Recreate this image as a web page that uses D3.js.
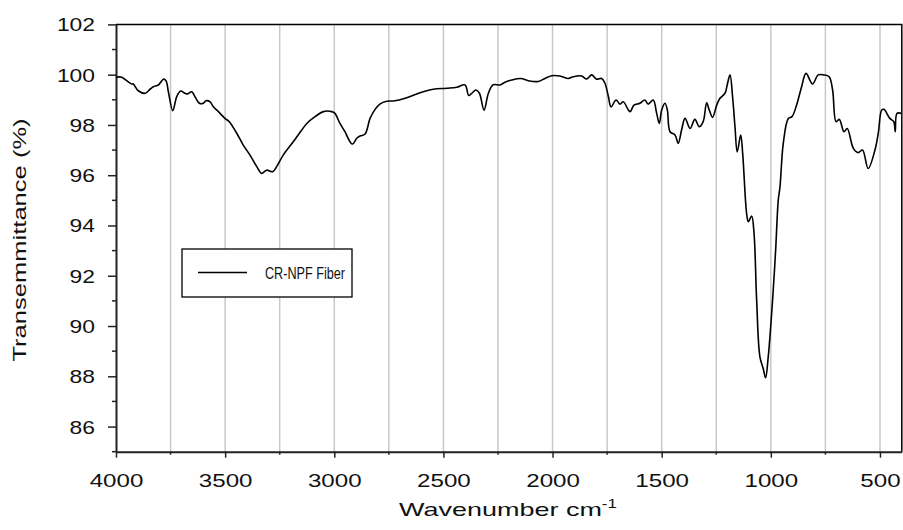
<!DOCTYPE html>
<html>
<head>
<meta charset="utf-8">
<script src="https://cdn.jsdelivr.net/npm/d3@7"></script>
<style>
  html, body { margin: 0; padding: 0; background: #fff; }
  svg { display: block; font-family: "Liberation Sans", Arial, sans-serif; }
</style>
</head>
<body>
<svg id="chart" width="903" height="530"></svg>
<script>
// ---- Data ----
const wavenumbers = [4000, 3974, 3951, 3928, 3921, 3898, 3867, 3844, 3829, 3806, 3783, 3771, 3760, 3740, 3722, 3704, 3684, 3673, 3653, 3638, 3618, 3600, 3588, 3569, 3554, 3531, 3501, 3481, 3447, 3417, 3386, 3355, 3333, 3310, 3282, 3264, 3234, 3188, 3149, 3126, 3088, 3050, 3012, 2997, 2974, 2951, 2928, 2916, 2897, 2882, 2859, 2836, 2813, 2791, 2760, 2722, 2668, 2607, 2546, 2485, 2439, 2401, 2384, 2370, 2351, 2335, 2314, 2294, 2272, 2241, 2218, 2187, 2146, 2111, 2065, 2035, 2004, 1966, 1928, 1905, 1867, 1844, 1821, 1798, 1775, 1760, 1744, 1732, 1709, 1691, 1676, 1645, 1627, 1600, 1577, 1562, 1539, 1523, 1511, 1500, 1485, 1474, 1462, 1439, 1424, 1409, 1393, 1370, 1348, 1328, 1310, 1294, 1282, 1267, 1248, 1233, 1210, 1200, 1187, 1175, 1164, 1154, 1138, 1129, 1111, 1103, 1088, 1077, 1065, 1050, 1035, 1024, 1012, 992, 978, 966, 958, 943, 920, 903, 882, 859, 839, 809, 783, 757, 733, 717, 701, 686, 665, 650, 622, 600, 580, 554, 523, 508, 492, 482, 455, 437, 430, 422, 402];
const transmittance = [99.9, 99.9, 99.76, 99.63, 99.63, 99.36, 99.26, 99.42, 99.52, 99.59, 99.82, 99.76, 99.32, 98.57, 99.12, 99.35, 99.26, 99.23, 99.32, 99.12, 98.86, 98.86, 98.96, 98.92, 98.72, 98.53, 98.26, 98.13, 97.67, 97.2, 96.8, 96.34, 96.07, 96.2, 96.14, 96.34, 96.8, 97.33, 97.8, 98.06, 98.33, 98.53, 98.53, 98.46, 98.06, 97.73, 97.33, 97.24, 97.47, 97.56, 97.64, 98.26, 98.62, 98.83, 98.94, 98.96, 99.08, 99.28, 99.42, 99.46, 99.5, 99.59, 99.17, 99.26, 99.39, 99.26, 98.59, 99.26, 99.6, 99.59, 99.7, 99.79, 99.85, 99.76, 99.73, 99.85, 99.96, 99.95, 99.85, 99.92, 99.95, 99.83, 99.99, 99.82, 99.85, 99.66, 99.12, 98.72, 98.99, 98.83, 98.92, 98.53, 98.79, 98.86, 98.99, 98.83, 98.99, 98.46, 98.06, 98.59, 98.86, 98.59, 97.73, 97.6, 97.27, 97.8, 98.26, 97.86, 98.22, 97.93, 98.13, 98.88, 98.59, 98.3, 98.79, 99.06, 99.26, 99.59, 99.99, 99.1, 97.9, 96.93, 97.6, 96.87, 94.48, 94.15, 94.38, 93.69, 91.03, 88.77, 88.31, 87.94, 88.77, 91.03, 93.02, 95.01, 95.54, 97.27, 98.26, 98.33, 98.79, 99.52, 100.05, 99.63, 99.99, 99.99, 99.92, 99.39, 98.13, 98.22, 97.73, 97.86, 97.07, 96.9, 97.0, 96.27, 97.0, 97.66, 98.59, 98.62, 98.26, 98.13, 97.73, 98.46, 98.46];

const xMajorTicks = [4000, 3500, 3000, 2500, 2000, 1500, 1000, 500];
const xMinorTicks = [3750, 3250, 2750, 2250, 1750, 1250, 750];
const xGridLines = [3750, 3500, 3250, 3000, 2750, 2500, 2250, 2000, 1750, 1500, 1250, 1000, 750, 500];
const yMajorTicks = [86, 88, 90, 92, 94, 96, 98, 100, 102];
const yMinorTicks = [85, 87, 89, 91, 93, 95, 97, 99, 101];
const seriesName = "CR-NPF Fiber";
const xTitle = "Wavenumber cm";
const xTitleSup = "-1";
const yTitle = "Transemmittance (%)";

// ---- Layout ----
const pL = 116, pR = 901.8, pT = 24.4, pB = 451.7;
const svg = d3.select("#chart");

const x = d3.scaleLinear().domain([4000, 400]).range([pL, pR]);
const y = d3.scaleLinear().domain([85, 102]).range([pB, pT]);

// gridlines
svg.append("g").selectAll("line").data(xGridLines).join("line")
  .attr("x1", d => x(d)).attr("x2", d => x(d))
  .attr("y1", pT).attr("y2", pB)
  .attr("stroke", "#c8c8c8").attr("stroke-width", 1.5);

// frame top/right
svg.append("line").attr("x1", pL).attr("x2", pR + 0.5).attr("y1", pT).attr("y2", pT)
  .attr("stroke", "#000").attr("stroke-width", 1.5);
svg.append("line").attr("x1", pR).attr("x2", pR).attr("y1", pT).attr("y2", pB)
  .attr("stroke", "#000").attr("stroke-width", 1.5);

// X axis
const xAxis = svg.append("g").attr("transform", `translate(0,${pB})`)
  .call(d3.axisBottom(x).tickValues(xMajorTicks).tickSize(6).tickSizeOuter(0).tickFormat(d3.format("d")));
xAxis.append("g").selectAll("line").data(xMinorTicks).join("line")
  .attr("x1", d => x(d)).attr("x2", d => x(d)).attr("y1", 0).attr("y2", 3)
  .attr("stroke", "#222").attr("stroke-width", 1.5);
xAxis.select(".domain").attr("stroke", "#222").attr("stroke-width", 2);
xAxis.selectAll(".tick line").attr("stroke", "#222").attr("stroke-width", 1.5);
xAxis.selectAll(".tick text")
  .attr("y", 0).attr("dy", null)
  .attr("transform", "translate(0,35.5) scale(1.27,1)")
  .attr("font-size", 19).attr("font-family", "Liberation Sans, Arial, sans-serif").attr("fill", "#111");

// Y axis
const yAxis = svg.append("g").attr("transform", `translate(${pL},0)`)
  .call(d3.axisLeft(y).tickValues(yMajorTicks).tickSize(8).tickSizeOuter(0));
yAxis.append("g").selectAll("line").data(yMinorTicks).join("line")
  .attr("y1", d => y(d)).attr("y2", d => y(d)).attr("x1", 0).attr("x2", -4)
  .attr("stroke", "#222").attr("stroke-width", 1.5);
yAxis.select(".domain").attr("stroke", "#222").attr("stroke-width", 2);
yAxis.selectAll(".tick line").attr("stroke", "#222").attr("stroke-width", 1.5);
yAxis.selectAll(".tick text")
  .attr("x", 0).attr("dy", null)
  .attr("transform", "translate(-21,6.5) scale(1.27,1)")
  .attr("font-size", 18).attr("font-family", "Liberation Sans, Arial, sans-serif").attr("fill", "#111");

// Spectrum line
const pts = wavenumbers.map((w, i) => [w, transmittance[i]]);
svg.append("path").datum(pts)
  .attr("fill", "none").attr("stroke", "#000").attr("stroke-width", 1.6)
  .attr("stroke-linejoin", "round")
  .attr("d", d3.line().x(d => x(d[0])).y(d => y(d[1])).curve(d3.curveCatmullRom.alpha(0.5)));

// Legend
const lg = svg.append("g");
lg.append("rect").attr("x", 182).attr("y", 249).attr("width", 170).attr("height", 48)
  .attr("fill", "#fff").attr("stroke", "#000").attr("stroke-width", 1.3);
lg.append("line").attr("x1", 198).attr("x2", 247).attr("y1", 272.5).attr("y2", 272.5)
  .attr("stroke", "#000").attr("stroke-width", 1.3);
lg.append("text").attr("x", 265).attr("y", 278.5).attr("font-size", 16).attr("fill", "#111")
  .attr("textLength", 80).attr("lengthAdjust", "spacingAndGlyphs")
  .text(seriesName);

// Axis titles
const xt = svg.append("text").attr("transform", "translate(508,516) scale(1.42,1)")
  .attr("text-anchor", "middle").attr("font-size", 19).attr("fill", "#111");
xt.append("tspan").text(xTitle);
xt.append("tspan").attr("font-size", 12).attr("dy", -8).text(xTitleSup);

svg.append("text").attr("transform", "translate(26,240) rotate(-90) scale(1.42,1)")
  .attr("text-anchor", "middle").attr("font-size", 18).attr("fill", "#111")
  .text(yTitle);
</script>
</body>
</html>
